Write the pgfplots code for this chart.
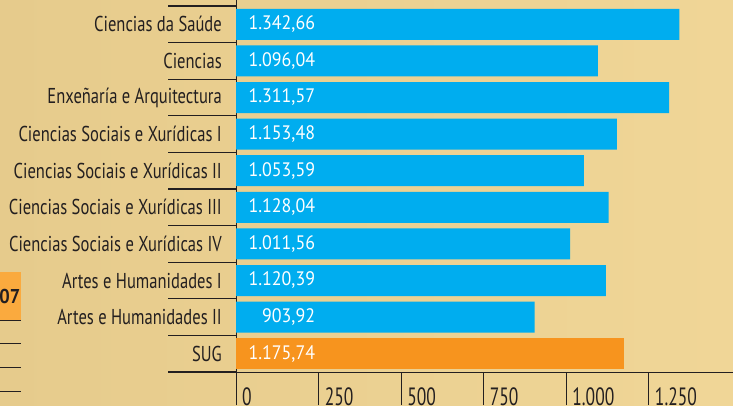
\documentclass[border=0pt]{standalone}
\usepackage{pgfplots}
\pgfplotsset{compat=1.18}
\usepackage{fontspec}
\setmainfont{PT Sans}[FakeStretch=0.77]
\newfontfamily\labfont{PT Sans}[FakeStretch=0.77]
\newfontfamily\tickfont{PT Sans}[FakeStretch=0.70]
\newfontfamily\numfont{PT Sans}[FakeStretch=0.92]
\definecolor{barblue}{HTML}{00ADEF}
\definecolor{barorange}{HTML}{F7941E}
\definecolor{ink}{HTML}{231F20}
\definecolor{bgA}{HTML}{E6CB8C}
\definecolor{bgB}{HTML}{F0D697}
\definecolor{boxor}{HTML}{FAAA3E}
\begin{document}
\begin{tikzpicture}
\useasboundingbox (0,0) rectangle (733pt,405pt);
\clip (0,0) rectangle (733pt,405pt);
\shade[left color=bgA, right color=bgB] (0,0) rectangle (733pt,405pt);
% partial neighbouring element on the left edge
\fill[boxor] (0,85pt) rectangle (20.5pt,133pt);
\node[anchor=east, inner sep=0pt, text=ink, font=\fontsize{20}{20}\selectfont\numfont\bfseries] at (20.5pt,109pt) {2007};
\foreach \yy in {85,62,38,14} \draw[ink, line width=1pt] (0,\yy pt) -- (20.5pt,\yy pt);
% category separators left of the axis
\foreach \i in {0,...,10} \draw[ink, line width=1.1pt] (168pt,{(33+\i*36.6)*1pt}) -- (236pt,{(33+\i*36.6)*1pt});
\begin{axis}[
  at={(236pt,33pt)}, anchor=south west,
  scale only axis, width=497pt, height=372pt,
  xmin=0, xmax=1505, ymin=-0.5, ymax=9.664,
  axis x line*=bottom, axis y line*=left,
  axis line style={-, ink, line width=1pt},
  tick align=outside,
  major tick length=33pt,
  xtick={0,250,500,750,1000,1250},
  xticklabels={0,250,500,750,1.000,1.250},
  xtick style={ink, line width=1pt},
  xticklabel style={anchor=north west, xshift=6pt, yshift=18pt, font=\fontsize{25}{25}\selectfont\tickfont, text=ink, inner sep=0pt},
  ytick={0,...,9},
  yticklabels={SUG, Artes e Humanidades II, Artes e Humanidades I, Ciencias Sociais e Xurídicas IV, Ciencias Sociais e Xurídicas III, Ciencias Sociais e Xurídicas II, Ciencias Sociais e Xurídicas I, Enxeñaría e Arquitectura\ , Ciencias, Ciencias da Saúde},
  ytick style={draw=none},
  yticklabel style={anchor=east, xshift=19pt, font=\fontsize{21.5}{21.5}\selectfont\labfont, text=ink, inner sep=0pt},
  clip=false,
]
\addplot[xbar, bar shift=0pt, bar width=31pt, fill=barblue, draw=none] coordinates {
(903.92,1) (1120.39,2) (1011.56,3) (1128.04,4) (1053.59,5) (1153.48,6) (1311.57,7) (1096.04,8) (1342.66,9)};
\addplot[xbar, bar shift=0pt, bar width=31pt, fill=barorange, draw=none] coordinates {(1175.74,0)};
\addplot[draw=none, mark=none, nodes near coords, point meta=explicit symbolic,
  every node near coord/.append style={anchor=east, inner sep=0pt, text=white, font=\fontsize{19.5}{19.5}\selectfont\numfont}]
  table[meta=lab] {
x y lab
240 0 1.175,74
240 1 903,92
240 2 1.120,39
240 3 1.011,56
240 4 1.128,04
240 5 1.053,59
240 6 1.153,48
240 7 1.311,57
240 8 1.096,04
240 9 1.342,66
};
\end{axis}
\end{tikzpicture}
\end{document}
